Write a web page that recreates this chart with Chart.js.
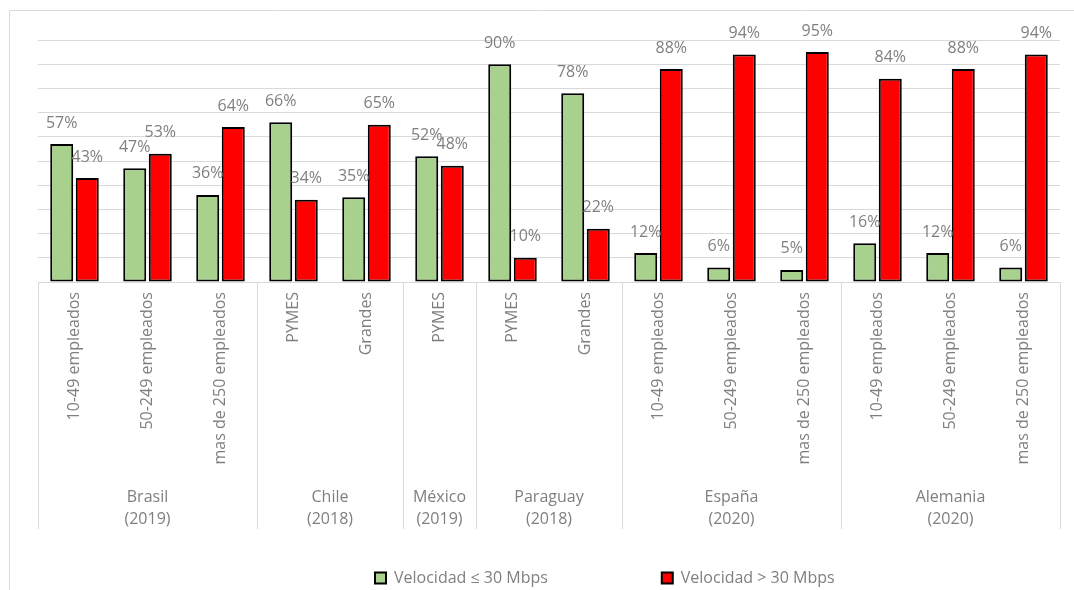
<!DOCTYPE html>
<html><head><meta charset="utf-8">
<script src="https://cdn.jsdelivr.net/npm/chart.js@4"></script>
<style>html,body{margin:0;padding:0;background:#fff;overflow:hidden}</style>
</head><body>
<canvas id="c" width="1074" height="590" style="display:block;width:1074px;height:590px"></canvas>
<script>
const categories = ['10-49 empleados','50-249 empleados','mas de 250 empleados','PYMES','Grandes','PYMES','PYMES','Grandes','10-49 empleados','50-249 empleados','mas de 250 empleados','10-49 empleados','50-249 empleados','mas de 250 empleados'];
const groupNames = ['Brasil','Chile','México','Paraguay','España','Alemania'];
const groupYears = ['(2019)','(2018)','(2019)','(2018)','(2020)','(2020)'];
const groupSizes = [3,2,1,2,3,3];
const lowSpeed = [57,47,36,66,35,52,90,78,12,6,5,16,12,6];
const highSpeed = [43,53,64,34,65,48,10,22,88,94,95,84,88,94];
const seriesNames = ['Velocidad ≤ 30 Mbps','Velocidad > 30 Mbps'];
const yMin = 0, yMax = 100, yStep = 10;

const FONT = '"Open Sans"';
const FS = 16;
const GRAY = '#7f7f7f';
const LINE = '#d9d9d9';

const framePlugin = {
  id: 'frame',
  beforeDraw(chart) {
    const ctx = chart.ctx;
    ctx.save();
    ctx.strokeStyle = LINE; ctx.lineWidth = 1;
    ctx.beginPath();
    ctx.moveTo(9.5, chart.height); ctx.lineTo(9.5, 10.5); ctx.lineTo(chart.width, 10.5);
    ctx.stroke();
    ctx.restore();
  }
};

const groupPlugin = {
  id: 'groups',
  afterDraw(chart) {
    const ctx = chart.ctx, xs = chart.scales.x, area = chart.chartArea;
    const half = (xs.getPixelForValue(1) - xs.getPixelForValue(0)) / 2;
    const yTop = area.bottom, yBot = area.bottom + 247;
    ctx.save();
    ctx.strokeStyle = LINE; ctx.lineWidth = 1;
    let idx = 0;
    const bounds = [xs.getPixelForValue(0) - half];
    groupSizes.forEach(s => { idx += s; bounds.push(xs.getPixelForValue(idx - 1) + half); });
    bounds.forEach(b => {
      const x = Math.round(b) + 0.5;
      ctx.beginPath(); ctx.moveTo(x, yTop); ctx.lineTo(x, yBot); ctx.stroke();
    });
    ctx.fillStyle = GRAY;
    ctx.font = FS + 'px ' + FONT;
    ctx.textAlign = 'center'; ctx.textBaseline = 'middle';
    groupNames.forEach((g, i) => {
      const cx = (bounds[i] + bounds[i + 1]) / 2;
      ctx.fillText(g, cx, area.bottom + 215);
      ctx.fillText(groupYears[i], cx, area.bottom + 237);
    });
    ctx.restore();
  }
};

const valueLabelPlugin = {
  id: 'valueLabels',
  afterDatasetsDraw(chart) {
    const ctx = chart.ctx;
    ctx.save();
    ctx.fillStyle = GRAY;
    ctx.font = FS + 'px ' + FONT;
    ctx.textAlign = 'center'; ctx.textBaseline = 'middle';
    chart.data.datasets.forEach((ds, di) => {
      const meta = chart.getDatasetMeta(di);
      meta.data.forEach((el, i) => {
        ctx.fillText(ds.data[i] + '%', el.x, el.y - 21);
      });
    });
    ctx.restore();
  }
};

const legendShift = {
  id: 'legendShift',
  afterLayout(chart) {
    const lg = chart.legend;
    if (!lg) return;
    const pad = 10;
    const start = ((lg.left + pad) + (lg.right - lg.lineWidths[0])) / 2;
    const dx = 375 - start;
    const dy = 578 - (lg.top + lg.height / 2);
    lg.left += dx; lg.right += dx;
    lg.top += dy; lg.bottom += dy;
  }
};

const measureCtx = document.createElement('canvas').getContext('2d');

new Chart(document.getElementById('c'), {
  type: 'bar',
  data: {
    labels: categories,
    datasets: [
      { label: seriesNames[0], data: lowSpeed, backgroundColor: '#a9d18e', borderColor: '#000', borderWidth: 2, borderSkipped: false },
      { label: seriesNames[1], data: highSpeed, backgroundColor: '#ff0000', borderColor: '#000', borderWidth: 2, borderSkipped: false }
    ]
  },
  options: {
    responsive: false,
    animation: false,
    devicePixelRatio: 1,
    layout: { padding: { top: 40, left: 38, right: 14, bottom: 25 } },
    datasets: { bar: { categoryPercentage: 0.7, barPercentage: 0.9 } },
    scales: {
      x: {
        grid: { display: false, drawTicks: false },
        border: { display: true, color: LINE, width: 1 },
        ticks: { autoSkip: false, minRotation: 90, maxRotation: 90, padding: 10, color: GRAY, font: { family: FONT, size: FS } },
        afterFit(s) { s.height = 247; }
      },
      y: {
        min: yMin, max: yMax,
        ticks: { display: false, stepSize: yStep },
        grid: { color: LINE, lineWidth: 1, drawTicks: false },
        border: { display: false },
        afterFit(s) { s.width = 0; }
      }
    },
    plugins: {
      tooltip: { enabled: false },
      legend: {
        position: 'bottom',
        labels: {
          boxWidth: 11, boxHeight: 11, padding: 10, color: GRAY,
          font: { family: FONT, size: FS },
          generateLabels(chart) {
            const items = Chart.defaults.plugins.legend.labels.generateLabels(chart);
            measureCtx.font = FS + 'px ' + FONT;
            const w0 = measureCtx.measureText(items[0].text).width;
            const w1 = measureCtx.measureText(items[0].text + '          ').width;
            const sw = (w1 - w0) / 10 || 4;
            items[0].text = items[0].text + ' '.repeat(Math.max(0, Math.round((659 - 390 - w0 - 10 - 3) / sw)));
            return items;
          }
        }
      }
    }
  },
  plugins: [framePlugin, groupPlugin, valueLabelPlugin, legendShift]
});
</script>
</body></html>
